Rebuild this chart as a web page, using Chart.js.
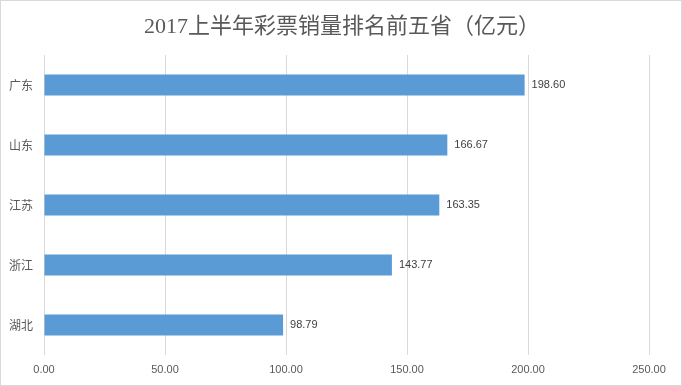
<!DOCTYPE html>
<html><head><meta charset="utf-8">
<script src="https://cdn.jsdelivr.net/npm/chart.js@4/dist/chart.umd.min.js"></script>
<style>
html,body{margin:0;padding:0;background:#fff;}
#wrap{position:relative;width:682px;height:386px;}
canvas{display:block;}
</style></head>
<body><div id="wrap"><canvas id="c" width="682" height="386"></canvas></div>
<script>
const chartTitle = "2017上半年彩票销量排名前五省（亿元）";
const provinces = ["广东", "山东", "江苏", "浙江", "湖北"];
const sales = [198.60, 166.67, 163.35, 143.77, 98.79];
const xMin = 0, xMax = 250, xStep = 50;

const frameAndTitle = {
  id: 'frameAndTitle',
  beforeDraw(chart) {
    const ctx = chart.ctx;
    ctx.save();
    ctx.fillStyle = '#fff';
    ctx.fillRect(0, 0, chart.width, chart.height);
    ctx.restore();
  },
  afterDraw(chart) {
    const ctx = chart.ctx;
    ctx.save();
    ctx.strokeStyle = '#d9d9d9';
    ctx.lineWidth = 1;
    ctx.strokeRect(0.5, 0.5, chart.width - 1, chart.height - 1);
    ctx.fillStyle = '#595959';
    ctx.font = '22px "Liberation Serif", "Noto Sans CJK SC", serif';
    ctx.textAlign = 'center';
    ctx.textBaseline = 'middle';
    ctx.fillText(chartTitle, 342, 27);
    ctx.restore();
  }
};

const valueLabels = {
  id: 'valueLabels',
  afterDatasetsDraw(chart) {
    const ctx = chart.ctx;
    const meta = chart.getDatasetMeta(0);
    ctx.save();
    ctx.fillStyle = '#404040';
    ctx.font = '11px "Liberation Sans", "Noto Sans CJK SC", sans-serif';
    ctx.textAlign = 'left';
    ctx.textBaseline = 'middle';
    meta.data.forEach((bar, i) => {
      ctx.fillText(sales[i].toFixed(2), bar.x + 7, bar.y);
    });
    ctx.restore();
  }
};

new Chart(document.getElementById('c'), {
  type: 'bar',
  data: {
    labels: provinces,
    datasets: [{
      data: sales,
      backgroundColor: '#5b9bd5',
      borderWidth: 0,
      categoryPercentage: 1,
      barPercentage: 0.35
    }]
  },
  options: {
    indexAxis: 'y',
    responsive: false,
    animation: false,
    devicePixelRatio: 1,
    layout: { padding: { top: 55, right: 33, bottom: 0, left: 0 } },
    plugins: { legend: { display: false }, title: { display: false }, tooltip: { enabled: false } },
    scales: {
      x: {
        min: xMin, max: xMax,
        ticks: {
          stepSize: xStep,
          color: '#595959',
          font: { size: 11, family: '"Liberation Sans", sans-serif' },
          padding: 8,
          callback: v => v.toFixed(2)
        },
        grid: { color: '#d9d9d9', drawTicks: false },
        border: { display: false },
        afterFit(s) { s.height = 31; }
      },
      y: {
        ticks: {
          color: '#595959',
          font: { size: 12, family: '"Noto Sans CJK SC", sans-serif' },
          padding: 11
        },
        grid: { display: false, drawTicks: false },
        border: { display: false },
        afterFit(s) { s.width = 44; }
      }
    }
  },
  plugins: [frameAndTitle, valueLabels]
});
</script></body></html>
